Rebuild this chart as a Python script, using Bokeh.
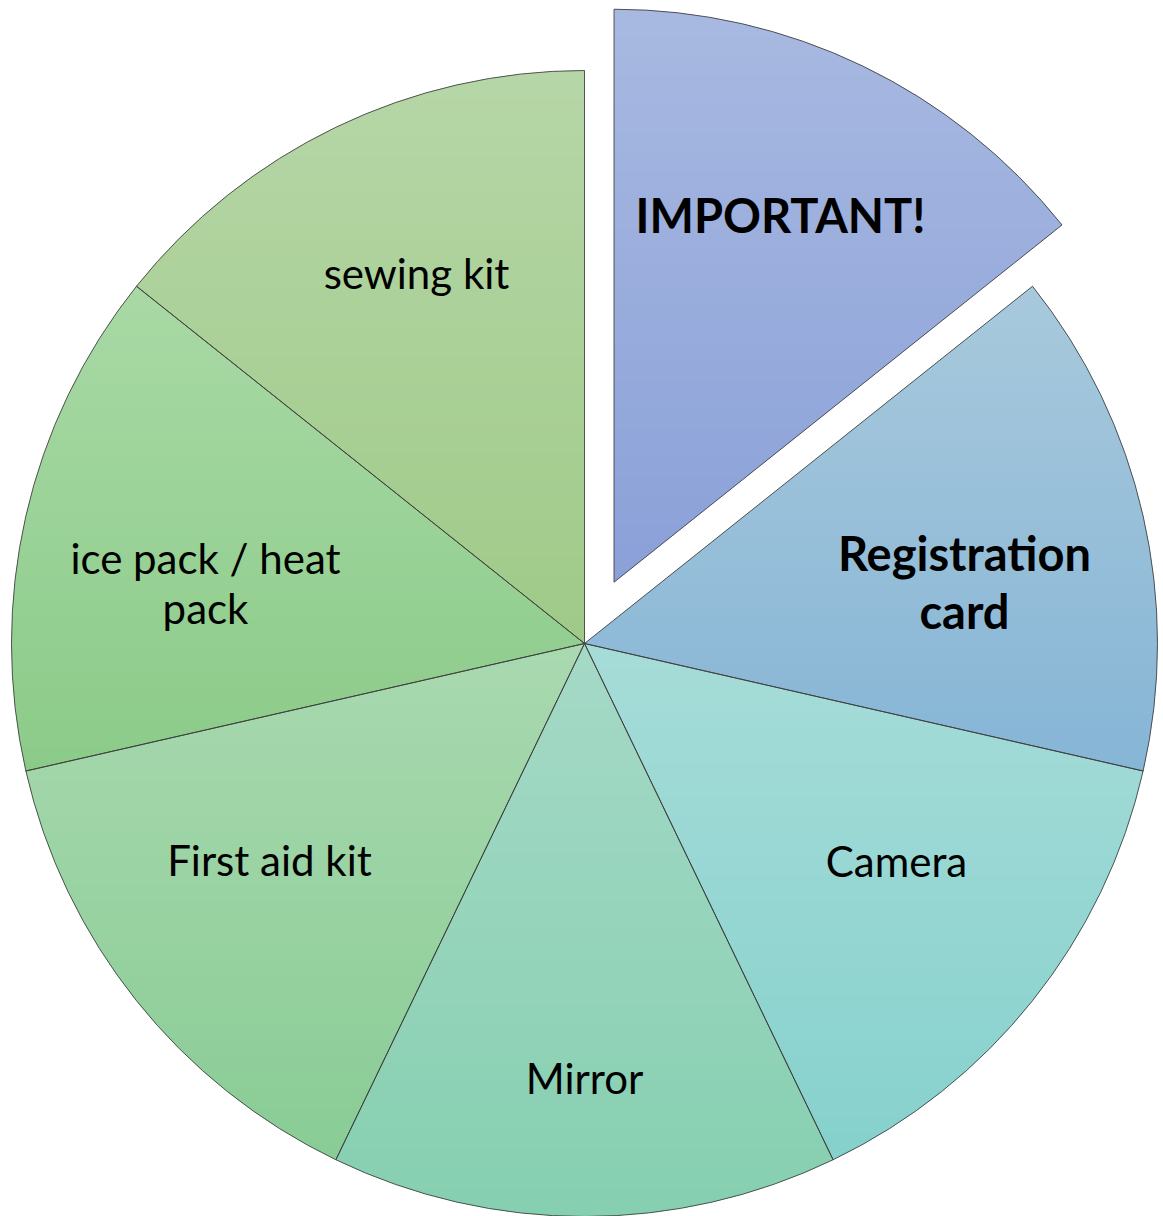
import numpy as np
from bokeh.plotting import figure
from bokeh.models import Range1d, ColumnDataSource
from bokeh.core.properties import value
from bokeh.embed import file_html
from bokeh.resources import INLINE

# ---------------- data ----------------
categories = ["IMPORTANT!", "Registration card", "Camera", "Mirror",
              "First aid kit", "ice pack / heat pack", "sewing kit"]
shares = [1, 1, 1, 1, 1, 1, 1]
label_lines = [["IMPORTANT!"], ["Registration", "card"], ["Camera"], ["Mirror"],
               ["First aid kit"], ["ice pack / heat", "pack"], ["sewing kit"]]
bold_labels = [True, True, False, False, False, False, False]

# ---------------- style / layout ----------------
top_colors = ["#a8b9e1", "#a8c9dc", "#a6dcd8", "#a5d9c7", "#a9d9b0", "#a9d9a5", "#b6d6a7"]
bottom_colors = ["#8aa0d8", "#86b5d6", "#86d1cd", "#86cfb0", "#89cc95", "#8bcb89", "#9fca88"]
RADIUS = 573
EXPLODE_INDEX = 0
EXPLODE_DIST = 68
# label anchors (center x, first-line baseline y) relative to pie centre
label_x = [196, 380, 312, 0, -315, -379, -168]
label_y = [411, 73, -232, -449, -231, 71, 356]
LINE_GAP_BOLD = 58
LINE_GAP = 50
SHIFT_NORMAL = 15
SHIFT_BOLD = 18

W, H = 1163, 1216
X0, Y0 = -584, 643  # data coordinate of top-left pixel

p = figure(width=W, height=H, output_backend="svg", toolbar_location=None,
           x_range=Range1d(X0, X0 + W), y_range=Range1d(Y0 - H, Y0),
           min_border=0, background_fill_color="white", border_fill_color="white")
p.axis.visible = False
p.grid.visible = False
p.outline_line_color = None

vals = np.array(shares, dtype=float)
cum = np.concatenate([[0], np.cumsum(vals)]) / vals.sum()
theta_a = np.pi / 2 - 2 * np.pi * cum[:-1]   # clockwise start
theta_b = np.pi / 2 - 2 * np.pi * cum[1:]    # clockwise end
mid = (theta_a + theta_b) / 2
offx = np.zeros(len(vals))
offy = np.zeros(len(vals))
offx[EXPLODE_INDEX] = EXPLODE_DIST * np.cos(mid[EXPLODE_INDEX])
offy[EXPLODE_INDEX] = EXPLODE_DIST * np.sin(mid[EXPLODE_INDEX])


def hex2rgb(h):
    h = h.lstrip("#")
    return np.array([int(h[i:i + 2], 16) for i in (0, 2, 4)], dtype=float)


def clip(poly, y0, keep_above):
    out = []
    n = len(poly)
    for i in range(n):
        a = poly[i]
        b = poly[(i + 1) % n]
        ina = a[1] >= y0 if keep_above else a[1] <= y0
        inb = b[1] >= y0 if keep_above else b[1] <= y0
        if ina:
            out.append(a)
        if ina != inb:
            t = (y0 - a[1]) / (b[1] - a[1])
            out.append((a[0] + t * (b[0] - a[0]), y0))
    return out


# base wedges (mid colour)
mid_colors = []
for t, b in zip(top_colors, bottom_colors):
    c = (hex2rgb(t) + hex2rgb(b)) / 2
    mid_colors.append("#%02x%02x%02x" % tuple(int(round(v)) for v in c))

src = ColumnDataSource(dict(x=offx, y=offy, start=theta_b, end=theta_a,
                            color=mid_colors, cat=categories))
p.wedge(x="x", y="y", radius=RADIUS, start_angle="start", end_angle="end",
        fill_color="color", line_color=None, source=src)

# vertical gradient strips
xs, ys, cols = [], [], []
NB = 60
for i in range(len(vals)):
    ang = np.linspace(theta_a[i], theta_b[i], 120)
    cx, cy = offx[i], offy[i]
    poly = [(cx, cy)] + [(cx + RADIUS * np.cos(a), cy + RADIUS * np.sin(a)) for a in ang]
    ymax = max(q[1] for q in poly)
    ymin = min(q[1] for q in poly)
    ct, cb = hex2rgb(top_colors[i]), hex2rgb(bottom_colors[i])
    edges = np.linspace(ymax, ymin, NB + 1)
    for k in range(NB):
        hi, lo = edges[k] + 0.6, edges[k + 1]
        piece = clip(clip(poly, lo, True), hi, False)
        if len(piece) < 3:
            continue
        f = (k + 0.5) / NB
        c = ct + (cb - ct) * f
        xs.append([q[0] for q in piece])
        ys.append([q[1] for q in piece])
        cols.append("#%02x%02x%02x" % tuple(int(round(v)) for v in c))
p.patches(xs=xs, ys=ys, fill_color=cols, line_color=None)

# outlines
p.wedge(x="x", y="y", radius=RADIUS, start_angle="start", end_angle="end",
        fill_color=None, line_color="#3c3c3c", line_alpha=0.85, line_width=1,
        source=src)

# labels
tx, ty, tt, tb = [], [], [], []
for i, lines in enumerate(label_lines):
    gap = LINE_GAP_BOLD if bold_labels[i] else LINE_GAP
    shift = SHIFT_BOLD if bold_labels[i] else SHIFT_NORMAL
    for j, line in enumerate(lines):
        tx.append(label_x[i])
        ty.append(label_y[i] - j * gap + shift)
        tt.append(line)
        tb.append(bold_labels[i])
tx = np.array(tx); ty = np.array(ty); tb = np.array(tb)
tt = np.array(tt)
p.text(x=tx[~tb], y=ty[~tb], text=list(tt[~tb]), text_font=value("Lato"),
       text_font_size="42px", text_align="center", text_baseline="alphabetic",
       text_color="black")
p.text(x=tx[tb], y=ty[tb], text=list(tt[tb]), text_font=value("Lato"),
       text_font_style="bold", text_font_size="47px", text_align="center",
       text_baseline="alphabetic", text_color="black")

open("out.html", "w").write(file_html(p, INLINE))
